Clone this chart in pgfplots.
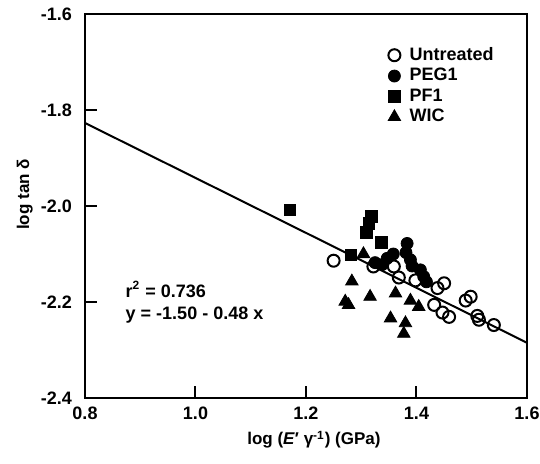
\documentclass[border=0pt]{standalone}
\usepackage{pgfplots}
\pgfplotsset{compat=1.18}
\usepackage{fontspec}
\setmainfont{Liberation Sans}
\begin{document}
\begin{tikzpicture}
\useasboundingbox (-42.5pt,-33pt) rectangle (227.5pt,199pt);
\begin{axis}[
  at={(0,0)}, anchor=south west,
  scale only axis, width=221pt, height=192pt,
  xmin=0.8, xmax=1.6, ymin=-2.4, ymax=-1.6,
  axis line style={line width=1pt},
  xtick={0.8,1.0,1.2,1.4,1.6},
  xticklabels={0.8,1.0,1.2,1.4,1.6},
  ytick={-2.4,-2.2,-2.0,-1.8,-1.6},
  yticklabels={-2.4,-2.2,-2.0,-1.8,-1.6},
  tick align=inside, xtick pos=bottom, ytick pos=left,
  major tick length=6pt,
  tick style={line width=1pt, black},
  ticklabel style={font=\fontsize{9}{11}\selectfont\bfseries},
  yticklabel style={xshift=-3pt},
  xticklabel style={yshift=-1pt},
  xlabel={log (\textit{E}′ γ\textsuperscript{-1}) (GPa)},
  ylabel={log tan δ},
  every axis x label/.style={at={(axis description cs:0.518,-0.109)}, anchor=center, font=\fontsize{8.5}{10}\selectfont\bfseries},
  every axis y label/.style={at={(axis description cs:-0.136,0.53)}, rotate=90, anchor=center, font=\fontsize{8.5}{10}\selectfont\bfseries},
  legend style={draw=none, fill=none, at={(axis description cs:0.685,0.925)}, anchor=north west,
    font=\fontsize{9}{11}\selectfont\bfseries, row sep=-1.5pt, inner sep=0pt,
    /tikz/every odd column/.append style={column sep=2.5pt}},
  legend cell align=left,
]
\addplot[black, line width=1pt, forget plot] coordinates {(0.8,-1.827) (1.6,-2.285)};
\addplot[only marks, mark=o, mark size=3pt, mark options={line width=1pt, black}] coordinates {
(1.250,-2.114) (1.322,-2.126) (1.359,-2.126) (1.368,-2.149) (1.398,-2.155)
(1.450,-2.161) (1.438,-2.171) (1.432,-2.206) (1.447,-2.222) (1.459,-2.231)
(1.489,-2.197) (1.498,-2.189) (1.510,-2.229) (1.513,-2.237) (1.540,-2.248)};
\addlegendentry{Untreated}
\addplot[only marks, mark=*, mark size=3pt, mark options={black, fill=black}] coordinates {
(1.325,-2.118) (1.338,-2.122) (1.347,-2.109) (1.358,-2.100) (1.383,-2.078)
(1.381,-2.097) (1.389,-2.112) (1.392,-2.125) (1.407,-2.133) (1.413,-2.147)
(1.418,-2.158)};
\addlegendentry{PEG1}
\addplot[only marks, mark=square*, mark size=2.9pt, mark options={black, fill=black}] coordinates {
(1.171,-2.008) (1.318,-2.022) (1.314,-2.036) (1.309,-2.055) (1.336,-2.076) (1.281,-2.102)};
\addlegendentry{PF1}
\addplot[only marks, mark=triangle*, mark size=3.6pt, mark options={black, fill=black}] coordinates {
(1.304,-2.100) (1.283,-2.157) (1.271,-2.199) (1.277,-2.206) (1.316,-2.189)
(1.362,-2.182) (1.353,-2.234) (1.389,-2.197) (1.404,-2.210) (1.380,-2.244)
(1.377,-2.266)};
\addlegendentry{WIC}
\node[anchor=west, align=left, font=\fontsize{9}{11}\selectfont\bfseries, inner sep=0pt]
  at (axis cs:0.873,-2.201) {r\textsuperscript{2} = 0.736\\y = -1.50 - 0.48 x};
\end{axis}
\end{tikzpicture}
\end{document}
